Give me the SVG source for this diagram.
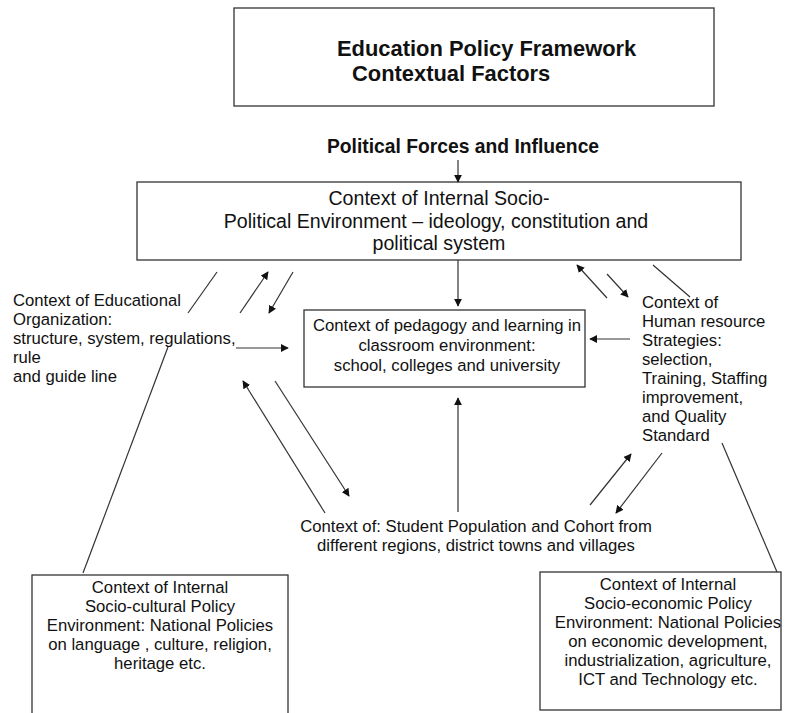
<svg xmlns="http://www.w3.org/2000/svg" width="785" height="713" viewBox="0 0 785 713">
<style>
text{font-family:"Liberation Sans",Arial,sans-serif;fill:#111;}
.t{font-size:16.7px;}
.tb{font-size:19.6px;}
.c{text-anchor:middle;}
.box{fill:#fff;stroke:#333;stroke-width:1.3;}
.ln{stroke:#333;stroke-width:1.2;fill:none;}
.ar{stroke:#333;stroke-width:1.2;fill:none;marker-end:url(#ah);}
</style>
<defs>
<marker id="ah" viewBox="0 0 10 10" refX="9" refY="5" markerWidth="8" markerHeight="8" markerUnits="userSpaceOnUse" orient="auto">
<path d="M0,0 L10,5 L0,10 z" fill="#111"/>
</marker>
</defs>
<rect width="785" height="713" fill="#fff"/>
<g id="title">
<rect class="box" x="234" y="8" width="480" height="98"/>
<text x="337" y="56" style="font-size:21.9px;font-weight:bold">Education Policy Framework</text>
<text x="352" y="81" style="font-size:21.9px;font-weight:bold">Contextual Factors</text>
</g>
<g id="political-forces">
<text x="463" y="153" class="c" style="font-size:19.3px;font-weight:bold">Political Forces and Influence</text>
</g>
<g id="socio-political">
<rect class="box" x="137" y="182" width="604" height="78"/>
<text class="tb c" x="439" y="205">Context of Internal Socio-</text>
<text class="tb c" x="436" y="228">Political Environment – ideology, constitution and</text>
<text class="tb c" x="439" y="250">political system</text>
</g>
<g id="pedagogy">
<rect class="box" x="304" y="310" width="281" height="77"/>
<text class="t c" x="447" y="331">Context of pedagogy and learning in</text>
<text class="t c" x="447" y="351">classroom environment:</text>
<text class="t c" x="447" y="371">school, colleges and university</text>
</g>
<g id="educational-organization">
<text class="t" x="13" y="306">Context of Educational</text>
<text class="t" x="13" y="325">Organization:</text>
<text class="t" x="13" y="344">structure, system, regulations,</text>
<text class="t" x="13" y="363">rule</text>
<text class="t" x="13" y="382">and guide line</text>
</g>
<g id="human-resource">
<text class="t" x="642" y="308">Context of</text>
<text class="t" x="642" y="327">Human resource</text>
<text class="t" x="642" y="346">Strategies:</text>
<text class="t" x="642" y="365">selection,</text>
<text class="t" x="642" y="384">Training, Staffing</text>
<text class="t" x="642" y="403">improvement,</text>
<text class="t" x="642" y="422">and Quality</text>
<text class="t" x="642" y="441">Standard</text>
</g>
<g id="student-population">
<text class="t c" x="476" y="532">Context of: Student Population and Cohort from</text>
<text class="t c" x="476" y="551">different regions, district towns and villages</text>
</g>
<g id="socio-cultural">
<rect class="box" x="32" y="575" width="256" height="145"/>
<text class="t c" x="160" y="593">Context of Internal</text>
<text class="t c" x="160" y="612">Socio-cultural Policy</text>
<text class="t c" x="160" y="631">Environment: National Policies</text>
<text class="t c" x="160" y="650">on language , culture, religion,</text>
<text class="t c" x="160" y="669">heritage etc.</text>
</g>
<g id="socio-economic">
<rect class="box" x="540" y="572" width="241" height="138"/>
<text class="t c" x="668" y="590">Context of Internal</text>
<text class="t c" x="668" y="609">Socio-economic Policy</text>
<text class="t c" x="668" y="628">Environment: National Policies</text>
<text class="t c" x="668" y="647">on economic development,</text>
<text class="t c" x="668" y="666">industrialization, agriculture,</text>
<text class="t c" x="668" y="685">ICT and Technology etc.</text>
</g>
<g id="connectors">
<line class="ar" x1="458" y1="160" x2="458" y2="182"/>
<line class="ar" x1="458" y1="260" x2="458" y2="306"/>
<line class="ln" x1="217" y1="272" x2="188" y2="313"/>
<line class="ar" x1="240" y1="313" x2="268" y2="272"/>
<line class="ar" x1="293" y1="272" x2="269" y2="313"/>
<line class="ar" x1="236" y1="348" x2="288" y2="348"/>
<line class="ln" x1="168" y1="347" x2="83" y2="573"/>
<line class="ar" x1="325" y1="513" x2="243" y2="381"/>
<line class="ar" x1="275" y1="381" x2="349" y2="496"/>
<line class="ar" x1="458" y1="512" x2="458" y2="398"/>
<line class="ar" x1="590" y1="505" x2="631" y2="454"/>
<line class="ar" x1="662" y1="453" x2="616" y2="513"/>
<line class="ln" x1="722" y1="443" x2="777" y2="572"/>
<line class="ar" x1="607" y1="298" x2="577" y2="265"/>
<line class="ar" x1="607" y1="274" x2="628" y2="297"/>
<line class="ln" x1="653" y1="265" x2="690" y2="297"/>
<line class="ar" x1="630" y1="339" x2="590" y2="339"/>
</g>
</svg>
